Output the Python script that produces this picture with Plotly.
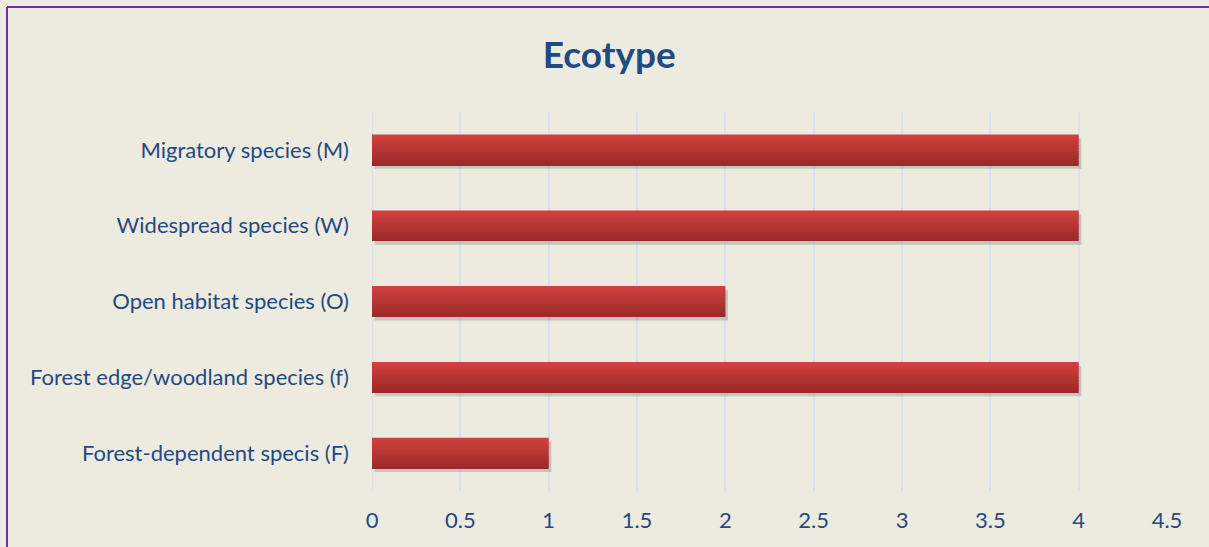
import plotly.graph_objects as go

# data, bottom to top
categories = [
    "Forest-dependent specis (F)",
    "Forest edge/woodland species (f)",
    "Open habitat species (O)",
    "Widespread species (W)",
    "Migratory species (M)",
]
counts = [1, 4, 2, 4, 4]
x_ticks = [0, 0.5, 1, 1.5, 2, 2.5, 3, 3.5, 4, 4.5]

bg = "#EDEAE0"
text_blue = "#1F4A82"
font = "Lato"

fig = go.Figure()

# soft drop shadow under each bar
fig.add_trace(go.Bar(
    y=categories, x=counts, orientation="h",
    width=0.4, offset=-0.25, base=0.015,
    marker=dict(color="rgba(90,85,75,0.25)", line=dict(width=0)),
    hoverinfo="skip", showlegend=False,
))

# fake vertical gradient: stack of thin bands, light red on top, dark at bottom
top_rgb = (208, 64, 61)
bot_rgb = (155, 41, 41)
n_bands = 20
band_w = 0.4 / n_bands
for i in range(n_bands):
    t = i / (n_bands - 1)
    c = tuple(round(b + (a - b) * t) for a, b in zip(top_rgb, bot_rgb))
    fig.add_trace(go.Bar(
        y=categories, x=counts, orientation="h",
        width=band_w + 0.002, offset=-0.2 + i * band_w,
        marker=dict(color="rgb(%d,%d,%d)" % c, line=dict(width=0)),
        showlegend=False,
    ))

fig.update_layout(
    width=1209, height=547,
    paper_bgcolor=bg, plot_bgcolor=bg,
    margin=dict(l=372, r=42, t=112, b=56),
    barmode="overlay",
    title=dict(
        text="<b>Ecotype</b>", x=0.504, xref="container", xanchor="center",
        y=1 - 55 / 547, yref="container", yanchor="middle",
        font=dict(family=font, size=37, color=text_blue),
    ),
    font=dict(family=font, color=text_blue),
    xaxis=dict(
        range=[0, 4.5], tickvals=x_ticks, ticktext=[f"{t:g}" for t in x_ticks],
        showgrid=True, gridcolor="#D8E2EE", gridwidth=2,
        zeroline=False, showline=False, ticks="",
        tickfont=dict(size=22, color=text_blue), ticklabelstandoff=14,
    ),
    yaxis=dict(
        categoryorder="array", categoryarray=categories,
        showgrid=False, zeroline=False, showline=False, ticks="",
        tickfont=dict(size=22, color=text_blue), ticklabelstandoff=22,
    ),
    shapes=[
        dict(type="line", xref="paper", yref="paper",
             x0=(7 - 372) / 795, x1=(7 - 372) / 795, y0=1 + 105 / 379, y1=-56 / 379,
             line=dict(color="#7030A0", width=2)),
        dict(type="line", xref="paper", yref="paper",
             x0=(7 - 372) / 795, x1=1 + 42 / 795, y0=1 + 105 / 379, y1=1 + 105 / 379,
             line=dict(color="#7030A0", width=2)),
        dict(type="line", xref="x", yref="paper", x0=0, x1=0, y0=0, y1=1,
             line=dict(color="#D8E2EE", width=2), layer="below"),
    ],
)

fig.write_html("out.html", config={"displayModeBar": False},
               post_script="document.body.style.margin='0';")
